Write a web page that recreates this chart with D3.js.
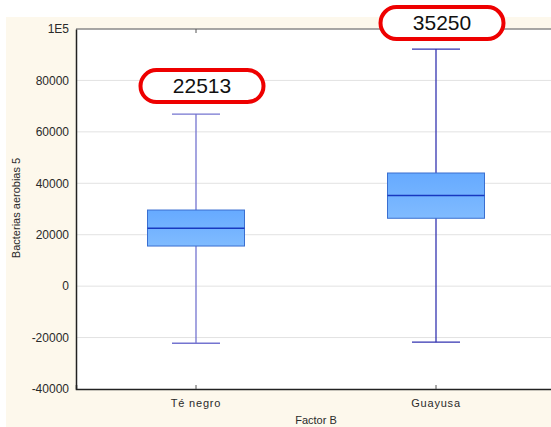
<!DOCTYPE html>
<html>
<head>
<meta charset="utf-8">
<script src="https://cdn.jsdelivr.net/npm/d3@7"></script>
<style>
  body { margin: 0; background: #fff; }
  svg { display: block; font-family: Arial, "Liberation Sans", sans-serif; }
</style>
</head>
<body>
<div id="chart"></div>
<script>
// data
var categories = ['Té negro', 'Guayusa'];
var medians = [22513, 35250];
var q1 = [15600, 26400];
var q3 = [29600, 44000];
var whiskerLow = [-22200, -21800];
var whiskerHigh = [66900, 92200];
var labels = ['22513', '35250'];
var yTicks = [-40000, -20000, 0, 20000, 40000, 60000, 80000, 100000];

var W = 551, H = 427;
var margin = {top: 29, left: 76, bottom: 38};

var svg = d3.select('#chart').append('svg')
    .attr('width', W)
    .attr('height', H);

// cream panel
svg.append('rect')
    .attr('x', 6).attr('y', 17)
    .attr('width', W - 6).attr('height', H - 17)
    .attr('fill', '#fdf8ec');

var x = d3.scaleBand().domain(categories).range([margin.left, 556]);
var y = d3.scaleLinear().domain([-40000, 100000]).range([H - margin.bottom, margin.top]);

// plot area
svg.append('rect')
    .attr('x', margin.left).attr('y', margin.top)
    .attr('width', W - margin.left).attr('height', y(-40000) - margin.top)
    .attr('fill', '#fff');

// grid lines
svg.append('g').selectAll('line')
    .data(yTicks.slice(1, -1))
    .enter().append('line')
    .attr('x1', margin.left).attr('x2', W)
    .attr('y1', function(d) { return y(d); })
    .attr('y2', function(d) { return y(d); })
    .attr('stroke', '#e2e2e2')
    .attr('stroke-width', 1);

// top border
svg.append('line')
    .attr('x1', margin.left).attr('x2', W)
    .attr('y1', y(100000)).attr('y2', y(100000))
    .attr('stroke', '#8a8a8a').attr('stroke-width', 1.5);

// Y axis
var yAxis = svg.append('g')
    .attr('transform', 'translate(' + margin.left + ',0)')
    .call(d3.axisLeft(y).tickValues(yTicks).tickSize(0).tickPadding(7)
      .tickFormat(function(d) { return d === 100000 ? '1E5' : d; }));
yAxis.select('.domain').attr('stroke', '#222').attr('stroke-width', 1.5);
yAxis.selectAll('text').attr('font-size', '12px').attr('fill', '#2a2a2a')
    .attr('font-family', 'Arial, "Liberation Sans", sans-serif');

// X axis
var xAxis = svg.append('g')
    .attr('transform', 'translate(0,' + y(-40000) + ')')
    .call(d3.axisBottom(x).tickSize(-4).tickPadding(10));
xAxis.select('.domain').attr('stroke', '#222').attr('stroke-width', 1.5);
xAxis.selectAll('.tick line').attr('stroke', '#555');
xAxis.selectAll('text').attr('font-size', '11px').attr('fill', '#2a2a2a')
    .attr('letter-spacing', '0.8px')
    .attr('font-family', 'Arial, "Liberation Sans", sans-serif');

// small top ticks
svg.append('g').selectAll('line')
    .data(categories)
    .enter().append('line')
    .attr('x1', function(d) { return x(d) + x.bandwidth() / 2; })
    .attr('x2', function(d) { return x(d) + x.bandwidth() / 2; })
    .attr('y1', y(100000)).attr('y2', y(100000) + 4)
    .attr('stroke', '#555');

// axis titles
svg.append('text')
    .attr('transform', 'translate(20,' + 208 + ') rotate(-90)')
    .attr('text-anchor', 'middle')
    .attr('font-size', '11px').attr('fill', '#2a2a2a')
    .text('Bacterias aerobias 5');

svg.append('text')
    .attr('x', 316).attr('y', 424)
    .attr('text-anchor', 'middle')
    .attr('font-size', '11px').attr('fill', '#2a2a2a')
    .text('Factor B');

// gradient for boxes
var grad = svg.append('defs').append('linearGradient')
    .attr('id', 'boxfill').attr('x1', 0).attr('y1', 0).attr('x2', 0).attr('y2', 1);
grad.append('stop').attr('offset', '0%').attr('stop-color', '#66aaff');
grad.append('stop').attr('offset', '100%').attr('stop-color', '#80bbff');

var whiskerColors = ['#7474d0', '#3333b0'];
var boxW = 97, capW = 48;

categories.forEach(function(c, i) {
  var cx = x(c) + x.bandwidth() / 2;
  var g = svg.append('g');
  // whisker line
  g.append('line')
      .attr('x1', cx).attr('x2', cx)
      .attr('y1', y(whiskerLow[i])).attr('y2', y(whiskerHigh[i]))
      .attr('stroke', whiskerColors[i]).attr('stroke-width', 1.3);
  // caps
  [whiskerLow[i], whiskerHigh[i]].forEach(function(v) {
    g.append('line')
        .attr('x1', cx - capW / 2).attr('x2', cx + capW / 2)
        .attr('y1', y(v)).attr('y2', y(v))
        .attr('stroke', whiskerColors[i]).attr('stroke-width', 1.3);
  });
  // box
  g.append('rect')
      .attr('x', cx - boxW / 2).attr('width', boxW)
      .attr('y', y(q3[i])).attr('height', y(q1[i]) - y(q3[i]))
      .attr('fill', 'url(#boxfill)')
      .attr('stroke', '#3a6fd0').attr('stroke-width', 1);
  // median
  g.append('line')
      .attr('x1', cx - boxW / 2).attr('x2', cx + boxW / 2)
      .attr('y1', y(medians[i])).attr('y2', y(medians[i]))
      .attr('stroke', '#1838c0').attr('stroke-width', 1.5);
});

// callout ovals with medians
var ovalW = 123, ovalH = 32;
var ovalY = [y(whiskerHigh[0]) - 28, y(whiskerHigh[1]) - 26];
categories.forEach(function(c, i) {
  var cx = x(c) + x.bandwidth() / 2 + 6;
  var cy = ovalY[i];
  svg.append('rect')
      .attr('x', cx - ovalW / 2).attr('y', cy - ovalH / 2)
      .attr('width', ovalW).attr('height', ovalH)
      .attr('rx', ovalH / 2).attr('ry', ovalH / 2)
      .attr('fill', '#fff')
      .attr('stroke', '#ee0000').attr('stroke-width', 4);
  svg.append('text')
      .attr('x', cx).attr('y', cy + 7)
      .attr('text-anchor', 'middle')
      .attr('font-size', '21px').attr('fill', '#111')
      .text(labels[i]);
});
</script>
</body>
</html>
